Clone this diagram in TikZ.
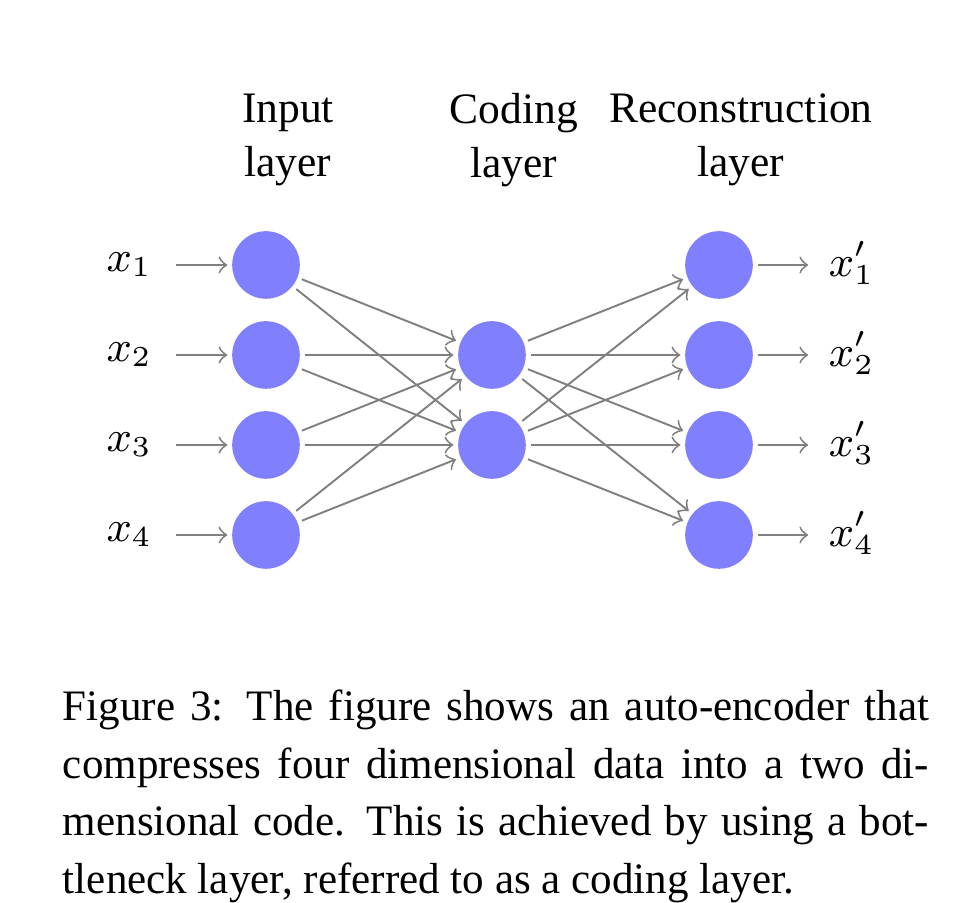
\documentclass[tikz,border=0pt]{standalone}
\usepackage[no-math]{fontspec}
\setmainfont{Liberation Serif}
\newfontfamily\captionfont{Liberation Serif}[FakeStretch=0.99]
\begin{document}
\begin{tikzpicture}[x=0.207pt,y=-0.207pt,
		neuron/.style={circle, fill=blue!50, minimum size=14pt, inner sep=0pt, outer sep=1pt},
		conn/.style={gray, ->},
		varlabel/.style={inner sep=0pt, font=\fontsize{9}{11}\selectfont},
		heading/.style={align=center, font=\fontsize{9}{11.3}\selectfont}]
	\useasboundingbox (0,0) rectangle (966,903);

	\node[heading] (hin) at (288,140) {Input\\layer};
	\node[heading] (hcode) at (514,140) {Coding\\layer};
	\node[heading] (hout) at (741,140) {Reconstruction\\layer};

	\foreach \i/\y in {1/265,2/355,3/445,4/535}
	{
		\node[neuron] (in\i) at (266,\y) {};
		\node[neuron] (out\i) at (719,\y) {};
		\node[varlabel, anchor=east] (xi\i) at (153,\y) {$x_\i$};
		\node[varlabel, anchor=west] (xo\i) at (828,\y-2) {$x'_\i$};
		\draw[conn, shorten <=4.8pt] (xi\i.east |- in\i) -- (in\i);
		\draw[conn, shorten >=4.1pt] (out\i) -- (xo\i.west |- out\i);
	}

	\node[neuron] (code1) at (492,355) {};
	\node[neuron] (code2) at (492,445) {};

	\foreach \i in {1,...,4}
		\foreach \j in {1,2}
		{
			\draw[conn] (in\i) -- (code\j);
			\draw[conn] (code\j) -- (out\i);
		}

	\node[anchor=base west, inner sep=0pt, text width=179.3pt, align=justify, font=\captionfont\fontsize{9}{11.9}\selectfont] (caption) at (62,721)
	{Figure 3: The figure shows an auto-encoder that\linebreak
	compresses four dimensional data into a two di-\linebreak
	mensional code. This is achieved by using a bot-\linebreak
	tleneck layer, referred to as a coding layer.};
\end{tikzpicture}
\end{document}
